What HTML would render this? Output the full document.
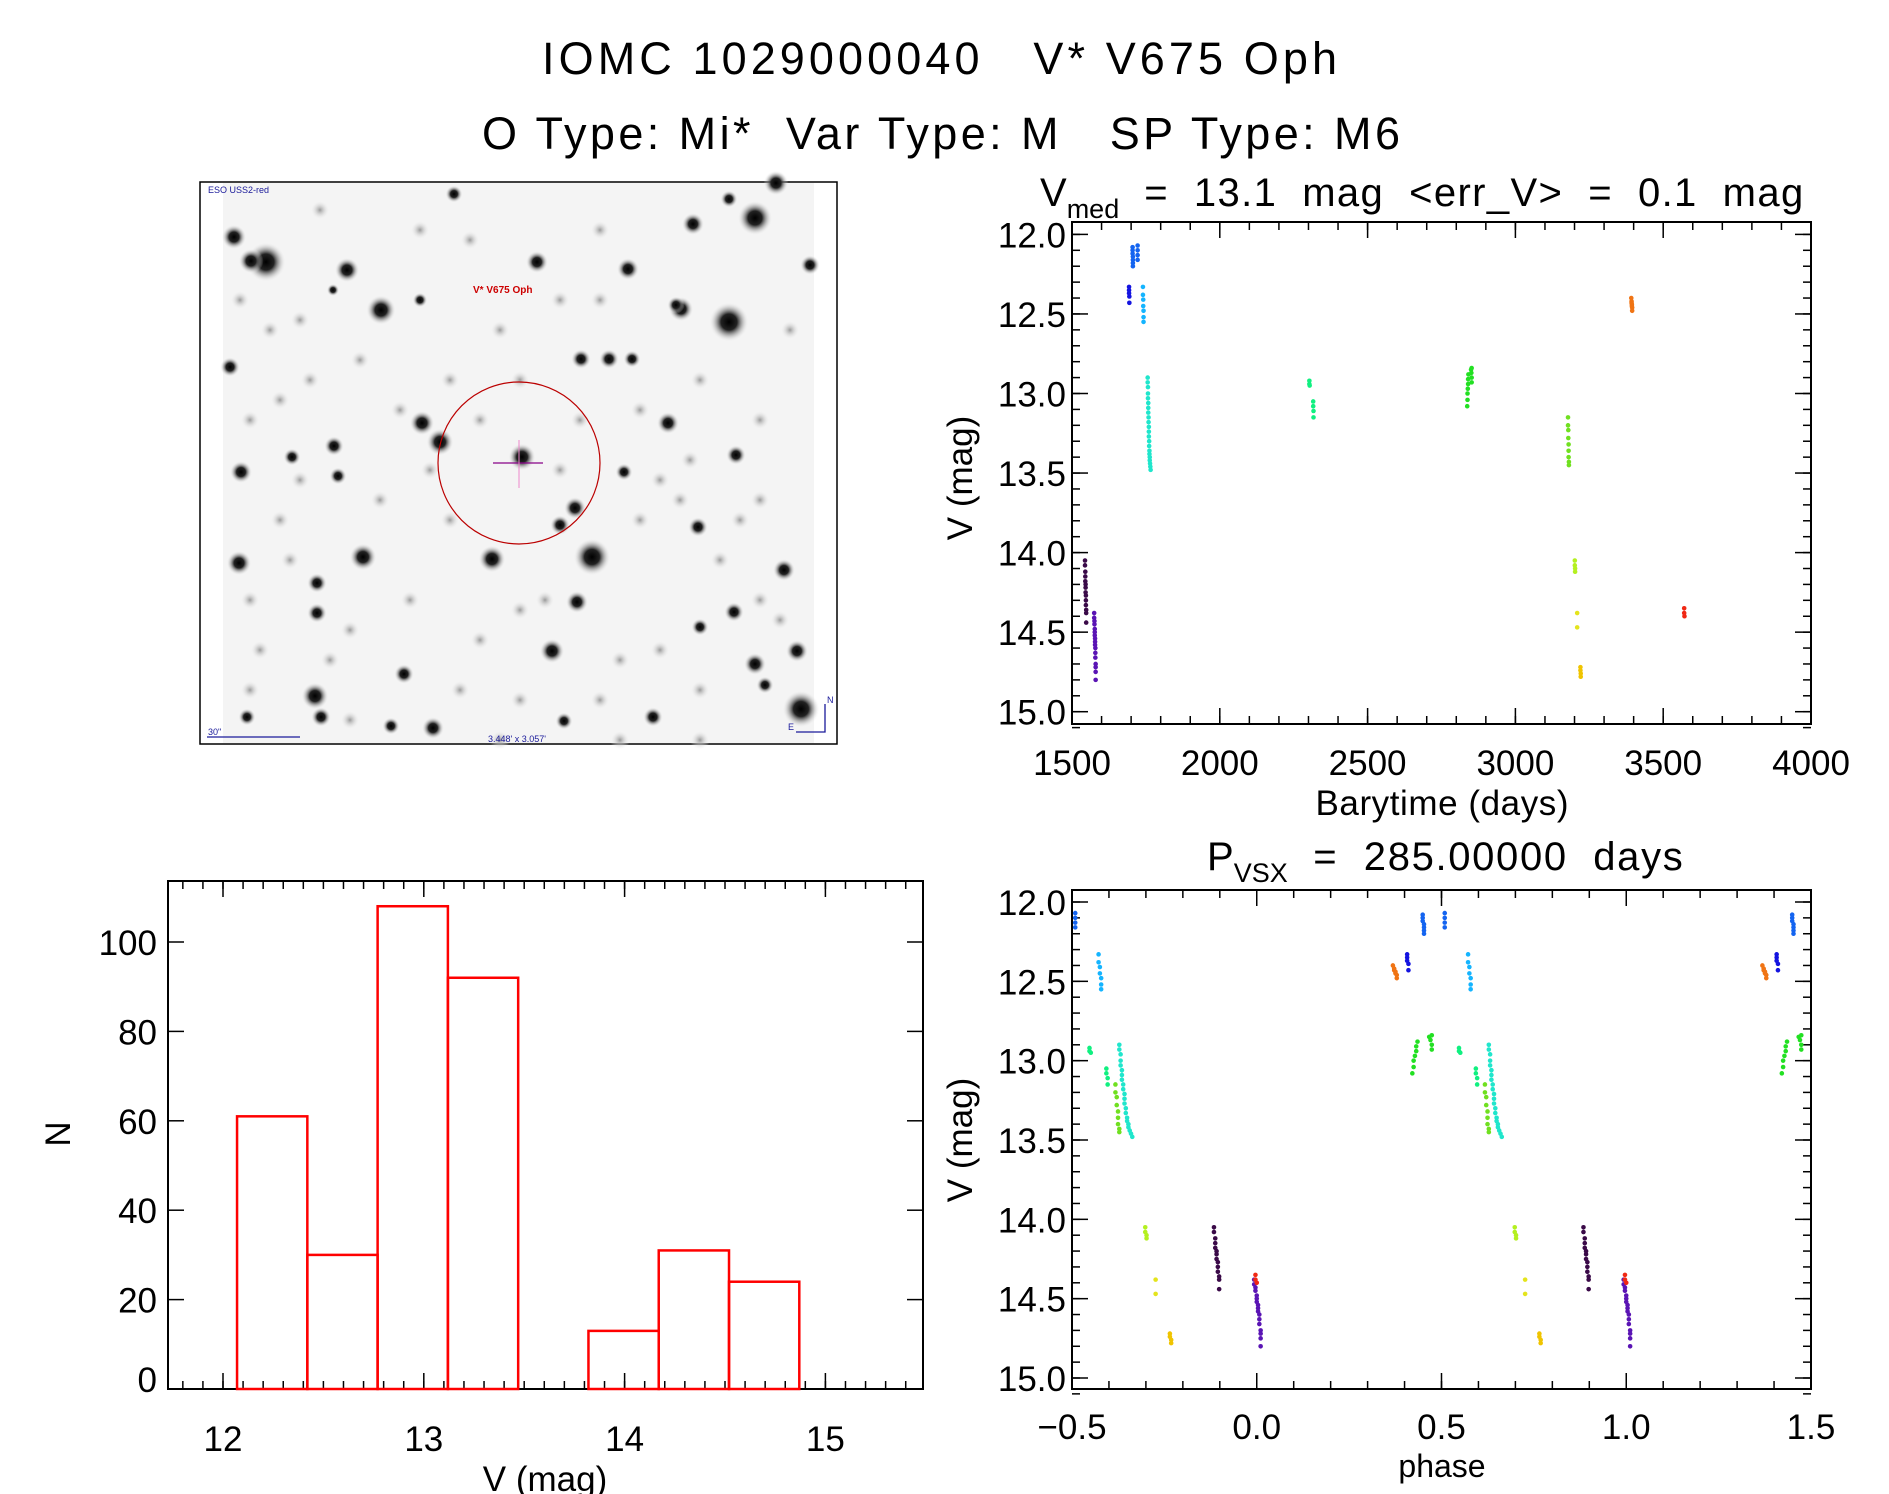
<!DOCTYPE html>
<html><head><meta charset="utf-8"><style>
html,body{margin:0;padding:0;background:#fff}
svg{display:block}
text{font-family:"Liberation Sans",sans-serif;fill:#000}
</style></head><body>
<svg id="fig" width="1889" height="1494" viewBox="0 0 1889 1494" xmlns="http://www.w3.org/2000/svg">
<defs>
<radialGradient id="sg"><stop offset="0" stop-color="#000"/><stop offset="0.4" stop-color="#222"/><stop offset="1" stop-color="#fff" stop-opacity="0"/></radialGradient>
<radialGradient id="fg"><stop offset="0" stop-color="#999"/><stop offset="1" stop-color="#fff" stop-opacity="0"/></radialGradient>
</defs>
<text x="542" y="74" font-size="45" textLength="795" lengthAdjust="spacing" xml:space="preserve">IOMC 1029000040   V* V675 Oph</text>
<text x="482" y="149" font-size="45" textLength="918" lengthAdjust="spacing" xml:space="preserve">O Type: Mi*  Var Type: M   SP Type: M6</text>

<g id="finder">
<rect x="200" y="182" width="637" height="562" fill="#fff" stroke="#000" stroke-width="1.5"/>
<rect x="223" y="183" width="591" height="560" fill="#f4f4f4"/>
<g id="stars"></g>
<text x="208" y="193" font-size="9" style="fill:#1a1a9a">ESO USS2-red</text>
<text x="473" y="293" font-size="10" font-weight="bold" style="fill:#c00">V* V675 Oph</text>
<circle cx="519" cy="463" r="81" fill="none" stroke="#b00" stroke-width="1.2"/>
<line x1="493" y1="463" x2="543" y2="463" stroke="#808" stroke-width="1.3"/>
<line x1="519" y1="440" x2="519" y2="488" stroke="#e8c" stroke-width="1"/>
<line x1="207" y1="737" x2="300" y2="737" stroke="#1a1a9a" stroke-width="1.3"/>
<text x="208" y="735" font-size="9" style="fill:#1a1a9a">30"</text>
<text x="488" y="742" font-size="9" style="fill:#1a1a9a">3.448' x 3.057'</text>
<path d="M825 704 V732 H796" fill="none" stroke="#1a1a9a" stroke-width="1.3"/>
<text x="827" y="703" font-size="9" style="fill:#1a1a9a">N</text>
<text x="788" y="730" font-size="9" style="fill:#1a1a9a">E</text>
</g>

<g id="lc"></g>
<g id="hist"></g>
<g id="ph"></g>
</svg>
<script>
// ---- light curve data ----
const obsTime = [
1544,1544,1545,1545,1545,1546,1546,1546,1547,1547,1547,1548,1548,1548,
1575,1575,1576,1576,1577,1577,1577,1578,1578,1578,1579,1579,1579,1580,1580,1580,1580,
1693,1693,1693,1694,1694,
1705,1705,1705,1706,1706,1706,1706,1722,1722,1722,1722,
1740,1740,1741,1741,1742,1742,1742,
1756,1756,1757,1757,1757,1758,1758,1758,1759,1759,1760,1760,1760,1761,1761,1762,1762,1763,1763,1764,1765,1766,
2303,2303,2304,2316,2316,2317,2317,
2837,2838,2838,2839,2840,2840,2841,2850,2851,2852,2852,2852,
3178,3178,3179,3179,3180,3180,3180,3181,3181,
3201,3201,3202,3202,
3209,3209,
3220,3220,3221,3221,
3392,3393,3393,3394,3394,3395,3395,
3571,3571,3572];
const obsMag = [
14.05,14.08,14.12,14.15,14.18,14.20,14.22,14.25,14.27,14.30,14.33,14.36,14.38,14.44,
14.38,14.41,14.43,14.45,14.48,14.50,14.52,14.54,14.56,14.58,14.60,14.63,14.66,14.70,14.72,14.75,14.80,
12.33,12.35,12.37,12.39,12.43,
12.08,12.10,12.12,12.14,12.16,12.18,12.20,12.07,12.10,12.13,12.16,
12.33,12.38,12.41,12.45,12.48,12.52,12.55,
12.90,12.93,12.96,13.00,13.03,13.06,13.09,13.12,13.15,13.18,13.21,13.24,13.27,13.30,13.33,13.36,13.38,13.40,13.42,13.44,13.46,13.48,
12.92,12.94,12.95,13.05,13.08,13.11,13.15,
13.08,13.04,13.00,12.97,12.94,12.91,12.88,12.85,12.87,12.90,12.93,12.84,
13.15,13.20,13.23,13.28,13.32,13.36,13.40,13.43,13.45,
14.05,14.08,14.10,14.12,
14.38,14.47,
14.72,14.74,14.76,14.78,
12.40,12.42,12.43,12.44,12.45,12.46,12.48,
14.35,14.38,14.40];
const obsGroup = [
0,0,0,0,0,0,0,0,0,0,0,0,0,0,
1,1,1,1,1,1,1,1,1,1,1,1,1,1,1,1,1,
2,2,2,2,2,
3,3,3,3,3,3,3,3,3,3,3,
4,4,4,4,4,4,4,
5,5,5,5,5,5,5,5,5,5,5,5,5,5,5,5,5,5,5,5,5,5,
6,6,6,6,6,6,6,
7,7,7,7,7,7,7,7,7,7,7,7,
8,8,8,8,8,8,8,8,8,
9,9,9,9,
10,10,
11,11,11,11,
12,12,12,12,12,12,12,
13,13,13];
const groupColors = ["#3a0a48","#5a14b4","#1414e0","#1464f0","#14b4ff","#20e6cc","#10f080","#22e022","#70e020","#b4f020","#e4e41c","#f0c400","#f07414","#f02814"];
const periodDays = 285.0;
const epochDay = 1577;
// ---- histogram data ----
const binEdges = [12.07,12.42,12.77,13.12,13.47,13.82,14.17,14.52,14.87];
const binCounts = [61,30,108,92,0,13,31,24];
const histYTicks = [0,20,40,60,80,100];
const histXTicks = [12,13,14,15];
const lcXTicks = [1500,2000,2500,3000,3500,4000];
const magTicks = ["12.0","12.5","13.0","13.5","14.0","14.5","15.0"];
const phaseTicks = ["-0.5","0.0","0.5","1.0","1.5"];

const NS="http://www.w3.org/2000/svg";
function mk(parent,tag,attrs,txt){const e=document.createElementNS(NS,tag);for(const k in attrs)e.setAttribute(k,attrs[k]);if(txt!==undefined)e.textContent=txt;parent.appendChild(e);return e;}

// finder stars
const starList=[[266,262,16],[234,237,10],[347,270,10],[381,310,12],[537,262,9],[628,269,9],[693,224,9],[755,218,14],[729,322,16],[681,309,10],[776,183,10],[810,265,8],[230,367,8],[581,359,8],[609,359,8],[632,359,7],[422,423,10],[440,442,11],[522,457,11],[575,508,9],[560,525,8],[334,446,8],[241,472,9],[338,476,7],[668,423,9],[736,455,8],[624,472,7],[592,557,15],[492,559,11],[363,557,11],[239,563,10],[317,583,8],[317,613,8],[577,602,9],[698,527,8],[784,570,9],[734,612,8],[552,651,10],[797,651,9],[755,664,9],[765,685,7],[404,674,8],[315,696,11],[321,717,8],[247,717,7],[433,728,9],[391,726,7],[801,709,15],[653,717,8],[564,721,7],[700,627,7],[454,194,7],[729,199,7],[292,457,7],[251,261,10],[676,305,7],[420,300,6],[333,290,5]];
const faint=[[300,320],[280,400],[450,380],[500,330],[640,410],[700,380],[760,420],[380,500],[450,520],[640,520],[720,560],[280,520],[350,630],[480,640],[620,660],[700,690],[260,650],[520,700],[580,420],[360,360],[470,240],[600,230],[250,420],[790,330],[660,480],[545,600],[410,600],[300,480],[760,500],[690,460],[600,300],[520,380],[430,470],[760,600],[250,600],[350,720],[500,740],[620,740],[700,740],[420,230],[320,210],[560,300],[240,300],[270,330],[310,380],[400,410],[480,420],[560,470],[680,500],[740,520],[290,560],[330,660],[460,690],[600,700],[660,650],[780,620],[250,690],[520,610]];
const sg=document.getElementById('stars');
faint.forEach(f=>{const c=mk(sg,'circle',{cx:f[0],cy:f[1],r:10,fill:'url(#fg)'});

});
starList.forEach(s=>{const c=mk(sg,'circle',{cx:s[0],cy:s[1],r:s[2]*1.25,fill:'url(#sg)'});

});

function frameTicks(g,L,T,R,B,xMaj,xMin,yMaj,yMin,xs,ys,majLen,minLen){
  mk(g,'rect',{x:L,y:T,width:R-L,height:B-T,fill:'none',stroke:'#000','stroke-width':2});
  xMin.forEach(v=>{const x=xs(v);mk(g,'line',{x1:x,y1:B,x2:x,y2:B-minLen,stroke:'#000','stroke-width':1.5});mk(g,'line',{x1:x,y1:T,x2:x,y2:T+minLen,stroke:'#000','stroke-width':1.5});});
  xMaj.forEach(v=>{const x=xs(v);mk(g,'line',{x1:x,y1:B,x2:x,y2:B-majLen,stroke:'#000','stroke-width':1.5});mk(g,'line',{x1:x,y1:T,x2:x,y2:T+majLen,stroke:'#000','stroke-width':1.5});});
  yMin.forEach(v=>{const y=ys(v);mk(g,'line',{x1:L,y1:y,x2:L+minLen,y2:y,stroke:'#000','stroke-width':1.5});mk(g,'line',{x1:R,y1:y,x2:R-minLen,y2:y,stroke:'#000','stroke-width':1.5});});
  yMaj.forEach(v=>{const y=ys(v);mk(g,'line',{x1:L,y1:y,x2:L+majLen,y2:y,stroke:'#000','stroke-width':1.5});mk(g,'line',{x1:R,y1:y,x2:R-majLen,y2:y,stroke:'#000','stroke-width':1.5});});
}
function range(a,b,s){const r=[];for(let v=a;v<=b+1e-9;v+=s)r.push(+v.toFixed(4));return r;}

// ---- light curve panel ----
(function(){
 const g=document.getElementById('lc');
 const L=1072,R=1811,T=222,B=724;
 const xs=t=>L+(t-1500)/2500*(R-L);
 const ys=m=>234.4+(m-12)/3*(711.7-234.4);
 frameTicks(g,L,T,R,B,lcXTicks,range(1500,4000,100),magTicks.map(Number),range(12,15.1,0.1),xs,ys,16,8);
 lcXTicks.forEach(v=>{const t=mk(g,'text',{x:xs(v),y:775,'font-size':35,'text-anchor':'middle'},String(v));
 
 });
 magTicks.forEach(v=>{const t=mk(g,'text',{x:1066,y:ys(+v)+13,'font-size':35,'text-anchor':'end'},v);
 
 });
 const xl=mk(g,'text',{x:1442,y:815,'font-size':35,'text-anchor':'middle',textLength:253,lengthAdjust:'spacing'},'Barytime (days)');
 
 
 const yl=mk(g,'text',{x:0,y:0,'font-size':35,'text-anchor':'middle',transform:'translate(972,478) rotate(-90)'},'V (mag)');
 
 
 const tt=mk(g,'text',{x:1040,y:206,'font-size':40},'');
 
 
 tt.innerHTML='V<tspan font-size="27" dy="12">med</tspan><tspan dy="-12" xml:space="preserve" textLength="684" lengthAdjust="spacing">  =  13.1  mag  &lt;err_V&gt;  =  0.1  mag</tspan>';
 obsTime.forEach((t,i)=>{const c=mk(g,'circle',{cx:xs(t),cy:ys(obsMag[i]),r:2.3,fill:groupColors[obsGroup[i]]});
 
 });
})();

// ---- histogram panel ----
(function(){
 const g=document.getElementById('hist');
 const L=168,R=923,T=881,B=1389;
 const xs=v=>223+(v-12)*200.8;
 const ys=n=>1389-n*4.47;
 frameTicks(g,L,T,R,B,histXTicks,range(11.8,15.4,0.1),histYTicks,[],xs,ys,16,8);
 binCounts.forEach((n,i)=>{const r=mk(g,'rect',{x:xs(binEdges[i]),y:ys(n),width:xs(binEdges[i+1])-xs(binEdges[i]),height:ys(0)-ys(n),fill:'none',stroke:'#f00','stroke-width':2.5});
 
 });
 histXTicks.forEach(v=>{const t=mk(g,'text',{x:xs(v),y:1451,'font-size':35,'text-anchor':'middle'},String(v));
 
 });
 histYTicks.forEach(v=>{const t=mk(g,'text',{x:157,y:ys(v)+(v===0?3:13),'font-size':35,'text-anchor':'end'},String(v));
 
 });
 const xl=mk(g,'text',{x:545,y:1491,'font-size':35,'text-anchor':'middle'},'V (mag)');
 
 
 const yl=mk(g,'text',{x:0,y:0,'font-size':35,'text-anchor':'middle',transform:'translate(70,1134) rotate(-90)'},'N');
 
 
})();

// ---- phase panel ----
(function(){
 const g=document.getElementById('ph');
 const L=1072,R=1811,T=890,B=1389;
 const xs=p=>L+(p+0.5)/2*(R-L);
 const ys=m=>902+(m-12)/3*(1378-902);
 frameTicks(g,L,T,R,B,phaseTicks.map(Number),range(-0.5,1.5,0.1),magTicks.map(Number),range(12,15.1,0.1),xs,ys,16,8);
 phaseTicks.forEach(v=>{const t=mk(g,'text',{x:xs(+v),y:1439,'font-size':35,'text-anchor':'middle'},v.replace('-','\u2212'));
 
 });
 magTicks.forEach(v=>{const t=mk(g,'text',{x:1066,y:ys(+v)+13,'font-size':35,'text-anchor':'end'},v);
 
 });
 const xl=mk(g,'text',{x:1442,y:1477,'font-size':32,'text-anchor':'middle'},'phase');
 
 
 const yl=mk(g,'text',{x:0,y:0,'font-size':35,'text-anchor':'middle',transform:'translate(972,1140) rotate(-90)'},'V (mag)');
 
 
 const tt=mk(g,'text',{x:1207,y:870,'font-size':40},'');
 
 
 tt.innerHTML='P<tspan font-size="27" dy="12">VSX</tspan><tspan dy="-12" xml:space="preserve" textLength="395" lengthAdjust="spacing">  =  285.00000  days</tspan>';
 obsTime.forEach((t,i)=>{let ph=((t-epochDay)/periodDays)%1;if(ph<0)ph+=1;
  [ph-1,ph,ph+1].forEach(q=>{if(q>=-0.5&&q<=1.5){const c=mk(g,'circle',{cx:xs(q),cy:ys(obsMag[i]),r:2.3,fill:groupColors[obsGroup[i]]});
  
  }});});
})();
</script>
</body></html>
